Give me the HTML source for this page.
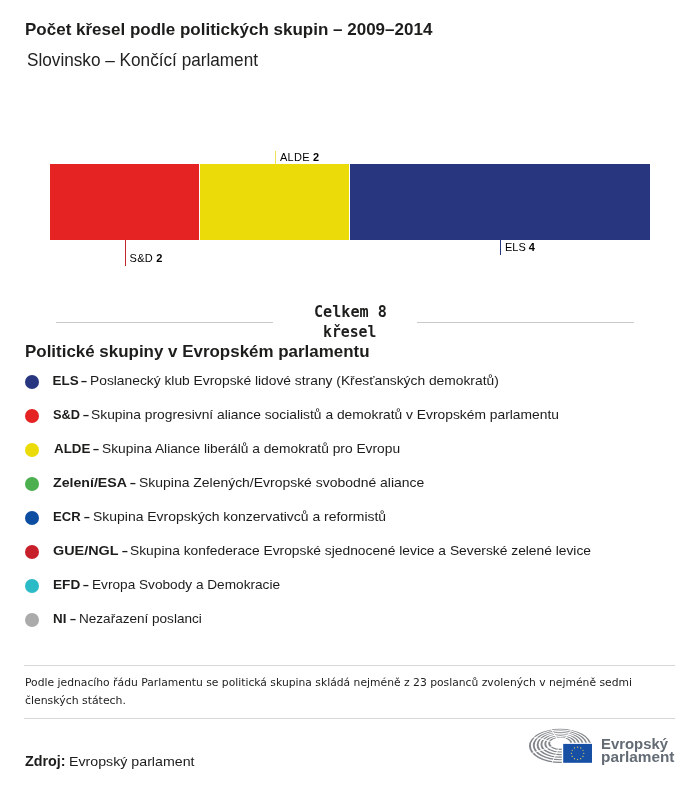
<!DOCTYPE html>
<html lang="cs">
<head>
<meta charset="utf-8">
<title>Počet křesel podle politických skupin – 2009–2014</title>
<style>
html,body{margin:0;padding:0;background:#fff;}
body{width:700px;height:786px;position:relative;overflow:hidden;font-family:"Liberation Sans",sans-serif;color:#1d1d1b;}
.t{position:absolute;white-space:nowrap;line-height:1;transform-origin:0 0;display:block;}
.abs{position:absolute;white-space:nowrap;}
.seg{position:absolute;top:164px;height:76px;}
.tick{position:absolute;width:1px;}
.lbl{font-size:11px;line-height:12px;color:#000;letter-spacing:0.25px;}
.hr{position:absolute;height:1px;background:#c9c9c9;}
.dot{position:absolute;left:25px;width:14px;height:14px;border-radius:50%;}
h2,p,ul,li{margin:0;padding:0;list-style:none;font:inherit;}
</style>
</head>
<body>
<header>
<span class="t" style="left:24.98px;top:22.0px;font-family:'Liberation Sans',sans-serif;font-size:16.6px;font-weight:bold;color:#1d1d1b;transform:scaleX(1.0247)">Počet křesel podle politických skupin – 2009–2014</span>
<span class="t" style="left:26.93px;top:51.9px;font-family:'Liberation Sans',sans-serif;font-size:17.7px;font-weight:normal;color:#222222;transform:scaleX(0.9709)">Slovinsko – Končící parlament</span>
</header>
<section class="chart">
<div class="seg" style="left:50px;width:149px;background:#e42322;"></div>
<div class="seg" style="left:200px;width:149px;background:#ebdc09;"></div>
<div class="seg" style="left:350px;width:300px;background:#27367f;"></div>
<div class="tick" style="left:125px;top:240px;height:25.5px;background:#c2262b;"></div>
<div class="abs lbl" style="left:129.6px;top:252px;">S&amp;D <b>2</b></div>
<div class="tick" style="left:275px;top:151px;height:13px;background:#efe15a;"></div>
<div class="abs lbl" style="left:280px;top:151px;">ALDE <b>2</b></div>
<div class="tick" style="left:500px;top:240px;height:15px;background:#27367f;"></div>
<div class="abs lbl" style="left:505px;top:241px;letter-spacing:0;">ELS <b>4</b></div>
<div class="hr" style="left:56px;width:217px;top:322px;"></div>
<div class="hr" style="left:417px;width:217px;top:322px;"></div>
<p class="total">
<span class="t" style="left:313.52px;top:305.0px;font-family:'DejaVu Sans Mono','Liberation Mono',monospace;font-size:15.4px;font-weight:bold;color:#1d1d1b;transform:scaleX(0.9819)">Celkem 8</span>
<span class="t" style="left:322.84px;top:325.0px;font-family:'DejaVu Sans Mono','Liberation Mono',monospace;font-size:15.4px;font-weight:bold;color:#1d1d1b;transform:scaleX(0.9611)">křesel</span>
</p>
</section>
<section class="legend">
<h2><span class="t" style="left:24.98px;top:344.3px;font-family:'Liberation Sans',sans-serif;font-size:16.6px;font-weight:bold;color:#1d1d1b;transform:scaleX(1.0208)">Politické skupiny v Evropském parlamentu</span></h2>
<ul>
<li><i class="dot" style="top:375px;background:#27367f;"></i>
<span class="t" style="left:52.6px;top:374.4px;font-family:'Liberation Sans',sans-serif;font-size:13.4px;font-weight:bold;color:#1d1d1b;transform:scaleX(1.0)">ELS</span>
<span class="t" style="left:81.0px;top:374.4px;font-family:'Liberation Sans',sans-serif;font-size:13.4px;font-weight:bold;color:#1d1d1b;transform:scaleX(0.8)">–</span>
<span class="t" style="left:90.37px;top:374.4px;font-family:'Liberation Sans',sans-serif;font-size:13.4px;font-weight:normal;color:#1c1c1c;transform:scaleX(1.0309)">Poslanecký klub Evropské lidové strany (Křesťanských demokratů)</span></li>
<li><i class="dot" style="top:409px;background:#e42322;"></i>
<span class="t" style="left:52.64px;top:408.4px;font-family:'Liberation Sans',sans-serif;font-size:13.4px;font-weight:bold;color:#1d1d1b;transform:scaleX(0.9556)">S&amp;D</span>
<span class="t" style="left:83.0px;top:408.4px;font-family:'Liberation Sans',sans-serif;font-size:13.4px;font-weight:bold;color:#1d1d1b;transform:scaleX(0.8)">–</span>
<span class="t" style="left:91.37px;top:408.4px;font-family:'Liberation Sans',sans-serif;font-size:13.4px;font-weight:normal;color:#1c1c1c;transform:scaleX(1.0324)">Skupina progresivní aliance socialistů a demokratů v Evropském parlamentu</span></li>
<li><i class="dot" style="top:443px;background:#ebdc09;"></i>
<span class="t" style="left:53.5px;top:442.4px;font-family:'Liberation Sans',sans-serif;font-size:13.4px;font-weight:bold;color:#1d1d1b;transform:scaleX(0.9972)">ALDE</span>
<span class="t" style="left:93.0px;top:442.4px;font-family:'Liberation Sans',sans-serif;font-size:13.4px;font-weight:bold;color:#1d1d1b;transform:scaleX(0.8)">–</span>
<span class="t" style="left:101.57px;top:442.4px;font-family:'Liberation Sans',sans-serif;font-size:13.4px;font-weight:normal;color:#1c1c1c;transform:scaleX(1.0295)">Skupina Aliance liberálů a demokratů pro Evropu</span></li>
<li><i class="dot" style="top:477px;background:#4caf50;"></i>
<span class="t" style="left:53.4px;top:476.4px;font-family:'Liberation Sans',sans-serif;font-size:13.4px;font-weight:bold;color:#1d1d1b;transform:scaleX(1.058)">Zelení/ESA</span>
<span class="t" style="left:130.0px;top:476.4px;font-family:'Liberation Sans',sans-serif;font-size:13.4px;font-weight:bold;color:#1d1d1b;transform:scaleX(0.7714)">–</span>
<span class="t" style="left:138.56px;top:476.4px;font-family:'Liberation Sans',sans-serif;font-size:13.4px;font-weight:normal;color:#1c1c1c;transform:scaleX(1.0415)">Skupina Zelených/Evropské svobodné aliance</span></li>
<li><i class="dot" style="top:511px;background:#0c4da2;"></i>
<span class="t" style="left:53.02px;top:510.4px;font-family:'Liberation Sans',sans-serif;font-size:13.4px;font-weight:bold;color:#1d1d1b;transform:scaleX(0.9778)">ECR</span>
<span class="t" style="left:84.0px;top:510.4px;font-family:'Liberation Sans',sans-serif;font-size:13.4px;font-weight:bold;color:#1d1d1b;transform:scaleX(0.7714)">–</span>
<span class="t" style="left:92.56px;top:510.4px;font-family:'Liberation Sans',sans-serif;font-size:13.4px;font-weight:normal;color:#1c1c1c;transform:scaleX(1.0419)">Skupina Evropských konzervativců a reformistů</span></li>
<li><i class="dot" style="top:545px;background:#c8202a;"></i>
<span class="t" style="left:52.53px;top:544.4px;font-family:'Liberation Sans',sans-serif;font-size:13.4px;font-weight:bold;color:#1d1d1b;transform:scaleX(1.0733)">GUE/NGL</span>
<span class="t" style="left:122.0px;top:544.4px;font-family:'Liberation Sans',sans-serif;font-size:13.4px;font-weight:bold;color:#1d1d1b;transform:scaleX(0.7714)">–</span>
<span class="t" style="left:130.37px;top:544.4px;font-family:'Liberation Sans',sans-serif;font-size:13.4px;font-weight:normal;color:#1c1c1c;transform:scaleX(1.0305)">Skupina konfederace Evropské sjednocené levice a Severské zelené levice</span></li>
<li><i class="dot" style="top:579px;background:#2bbbc6;"></i>
<span class="t" style="left:52.98px;top:578.4px;font-family:'Liberation Sans',sans-serif;font-size:13.4px;font-weight:bold;color:#1d1d1b;transform:scaleX(1.016)">EFD</span>
<span class="t" style="left:83.0px;top:578.4px;font-family:'Liberation Sans',sans-serif;font-size:13.4px;font-weight:bold;color:#1d1d1b;transform:scaleX(0.7714)">–</span>
<span class="t" style="left:91.58px;top:578.4px;font-family:'Liberation Sans',sans-serif;font-size:13.4px;font-weight:normal;color:#1c1c1c;transform:scaleX(1.0186)">Evropa Svobody a Demokracie</span></li>
<li><i class="dot" style="top:613px;background:#ababab;"></i>
<span class="t" style="left:53.0px;top:612.4px;font-family:'Liberation Sans',sans-serif;font-size:13.4px;font-weight:bold;color:#1d1d1b;transform:scaleX(1.0)">NI</span>
<span class="t" style="left:70.0px;top:612.4px;font-family:'Liberation Sans',sans-serif;font-size:13.4px;font-weight:bold;color:#1d1d1b;transform:scaleX(0.8)">–</span>
<span class="t" style="left:78.99px;top:612.4px;font-family:'Liberation Sans',sans-serif;font-size:13.4px;font-weight:normal;color:#1c1c1c;transform:scaleX(1.0118)">Nezařazení poslanci</span></li>
</ul>
</section>
<footer>
<div class="hr" style="left:24px;width:651px;top:665px;background:#d6d6d6;"></div>
<p class="note">
<span class="t" style="left:24.62px;top:677px;font-family:'DejaVu Sans','Liberation Sans',sans-serif;font-size:11px;font-weight:normal;color:#1c1c1c;transform:scaleX(0.978)">Podle jednacího řádu Parlamentu se politická skupina skládá nejméně z 23 poslanců zvolených v nejméně sedmi</span>
<span class="t" style="left:24.61px;top:694.6px;font-family:'DejaVu Sans','Liberation Sans',sans-serif;font-size:11px;font-weight:normal;color:#1c1c1c;transform:scaleX(0.99)">členských státech.</span>
</p>
<div class="hr" style="left:24px;width:651px;top:718px;background:#d6d6d6;"></div>
<p class="source">
<span class="t" style="left:25.4px;top:754.2px;font-family:'Liberation Sans',sans-serif;font-size:14px;font-weight:bold;color:#1d1d1b;transform:scaleX(1.0237)">Zdroj:</span>
<span class="t" style="left:68.96px;top:755.1px;font-family:'Liberation Sans',sans-serif;font-size:13.6px;font-weight:normal;color:#1c1c1c;transform:scaleX(1.0445)">Evropský parlament</span>
</p>
<div class="logo">
<svg class="abs" style="left:520px;top:720px" width="80" height="50" viewBox="520 720 80 50">
<path fill="#82858a" fill-rule="evenodd" d="M528.95 745.90A31.25 17.05 0 1 1 591.45 745.90A31.25 17.05 0 1 1 528.95 745.90ZM530.85 745.62A29.35 16.15 0 1 1 589.55 745.62A29.35 16.15 0 1 1 530.85 745.62ZM532.80 745.41A27.40 14.95 0 1 1 587.60 745.41A27.40 14.95 0 1 1 532.80 745.41ZM534.70 745.13A25.50 14.05 0 1 1 585.70 745.13A25.50 14.05 0 1 1 534.70 745.13ZM536.65 744.92A23.55 12.85 0 1 1 583.75 744.92A23.55 12.85 0 1 1 536.65 744.92ZM538.55 744.64A21.65 11.95 0 1 1 581.85 744.64A21.65 11.95 0 1 1 538.55 744.64ZM540.50 744.43A19.70 10.75 0 1 1 579.90 744.43A19.70 10.75 0 1 1 540.50 744.43ZM542.40 744.15A17.80 9.85 0 1 1 578.00 744.15A17.80 9.85 0 1 1 542.40 744.15ZM544.35 743.94A15.85 8.65 0 1 1 576.05 743.94A15.85 8.65 0 1 1 544.35 743.94ZM546.25 743.66A13.95 7.75 0 1 1 574.15 743.66A13.95 7.75 0 1 1 546.25 743.66ZM548.20 743.45A12.00 6.55 0 1 1 572.20 743.45A12.00 6.55 0 1 1 548.20 743.45ZM550.10 743.17A10.10 5.65 0 1 1 570.30 743.17A10.10 5.65 0 1 1 550.10 743.17Z"/>
<g stroke="#fff" stroke-width="0.9">
<line x1="557.9" y1="739.8" x2="548.7" y2="725.2"/>
<line x1="564.4" y1="739.8" x2="574.5" y2="725.5"/>
<line x1="552.8" y1="742.1" x2="528.4" y2="735.5"/>
<line x1="553.2" y1="746.2" x2="529.8" y2="754.0"/>
<line x1="558.7" y1="748.3" x2="551.7" y2="763.3"/>
</g>
<rect x="561.8" y="742.7" width="32" height="22" fill="#fff"/>
<rect x="563.2" y="743.9" width="28.8" height="18.9" fill="#164fa4"/>
<circle cx="577.60" cy="747.15" r="0.62" fill="#e9d35a"/>
<circle cx="580.70" cy="747.98" r="0.62" fill="#e9d35a"/>
<circle cx="582.97" cy="750.25" r="0.62" fill="#e9d35a"/>
<circle cx="583.80" cy="753.35" r="0.62" fill="#e9d35a"/>
<circle cx="582.97" cy="756.45" r="0.62" fill="#e9d35a"/>
<circle cx="580.70" cy="758.72" r="0.62" fill="#e9d35a"/>
<circle cx="577.60" cy="759.55" r="0.62" fill="#e9d35a"/>
<circle cx="574.50" cy="758.72" r="0.62" fill="#e9d35a"/>
<circle cx="572.23" cy="756.45" r="0.62" fill="#e9d35a"/>
<circle cx="571.40" cy="753.35" r="0.62" fill="#e9d35a"/>
<circle cx="572.23" cy="750.25" r="0.62" fill="#e9d35a"/>
<circle cx="574.50" cy="747.98" r="0.62" fill="#e9d35a"/>
</svg>
<span class="t" style="left:600.67px;top:736.8px;font-family:'Liberation Sans',sans-serif;font-size:14.4px;font-weight:bold;color:#636b75;transform:scaleX(1.0344)">Evropský</span>
<span class="t" style="left:600.63px;top:750.1px;font-family:'Liberation Sans',sans-serif;font-size:14.4px;font-weight:bold;color:#636b75;transform:scaleX(1.0676)">parlament</span>
</div>
</footer>
</body>
</html>
